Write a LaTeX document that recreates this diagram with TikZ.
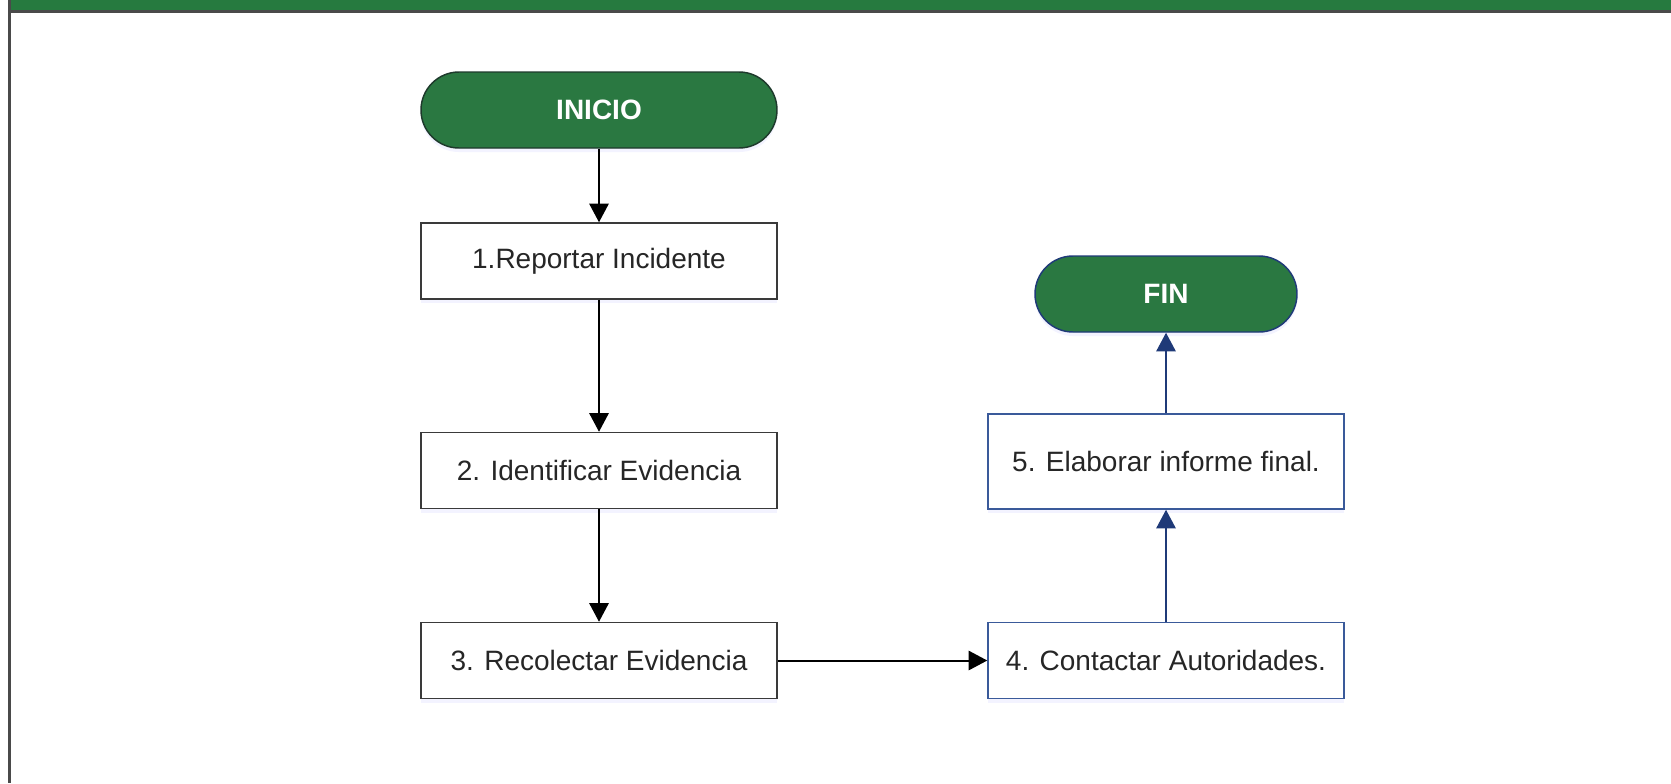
\documentclass[tikz,border=0pt]{standalone}
\usepackage{fontspec}
\setmainfont{Liberation Sans}
\usetikzlibrary{arrows.meta,shadows}

\definecolor{bargreen}{HTML}{267A3F}
\definecolor{termgreen}{HTML}{2A7841}
\definecolor{termedge}{HTML}{1E3A2C}
\definecolor{frame}{HTML}{4A4A4A}
\definecolor{navy}{HTML}{1F3A78}
\definecolor{boxblue}{HTML}{3A5A9A}
\definecolor{boxgray}{HTML}{3A3A3A}

\tikzset{
  softshadow/.style={drop shadow={shadow xshift=0pt, shadow yshift=-3pt, opacity=0.18, fill=blue!25}},
  terminal/.style={draw=termedge, line width=1.1pt, fill=termgreen, text=white,
    font=\fontsize{21}{25}\selectfont\bfseries, rounded corners=28.5pt,
    minimum height=57pt, inner sep=0pt, softshadow},
  stepbox/.style={draw=boxgray, line width=1.1pt, fill=white, text=black!85,
    font=\fontsize{21}{25}\selectfont, minimum width=267pt, minimum height=57pt,
    inner sep=0pt, softshadow},
  bluebox/.style={stepbox, draw=boxblue},
  flow/.style={line width=1.5pt, draw=black, -{Triangle[length=14pt,width=14.5pt]}},
  blueflow/.style={flow, draw=navy, fill=navy},
}

\begin{document}
\begin{tikzpicture}[x=0.75pt,y=-0.75pt]
  \useasboundingbox (0,0) rectangle (1671,783);
  \fill[white] (0,0) rectangle (1671,783);

  % header band and page frame
  \fill[bargreen] (10,0) rectangle (1671,10);
  \fill[frame] (10,10) rectangle (1671,12.5);
  \fill[frame] (8,0) rectangle (10.5,783);

  % left column
  \node[terminal, minimum width=267pt] (inicio) at (599,110) {INICIO};
  \node[stepbox] (s1) at (599,261) {1.Reportar Incidente};
  \node[stepbox] (s2) at (599,470.5) {2. Identificar Evidencia};
  \node[stepbox] (s3) at (599,660.5) {3. Recolectar Evidencia};

  % right column
  \node[bluebox] (s4) at (1166,660.5) {4. Contactar Autoridades.};
  \node[bluebox, minimum height=71.25pt] (s5) at (1166,461.5) {5. Elaborar informe final.};
  \node[terminal, draw=navy, minimum width=196.5pt] (fin) at (1166,294) {FIN};

  % connectors
  \draw[flow] (inicio) -- (s1);
  \draw[flow] (s1) -- (s2);
  \draw[flow] (s2) -- (s3);
  \draw[flow] (s3) -- (s4);
  \draw[blueflow] (s4) -- (s5);
  \draw[blueflow] (s5) -- (fin);
\end{tikzpicture}
\end{document}
